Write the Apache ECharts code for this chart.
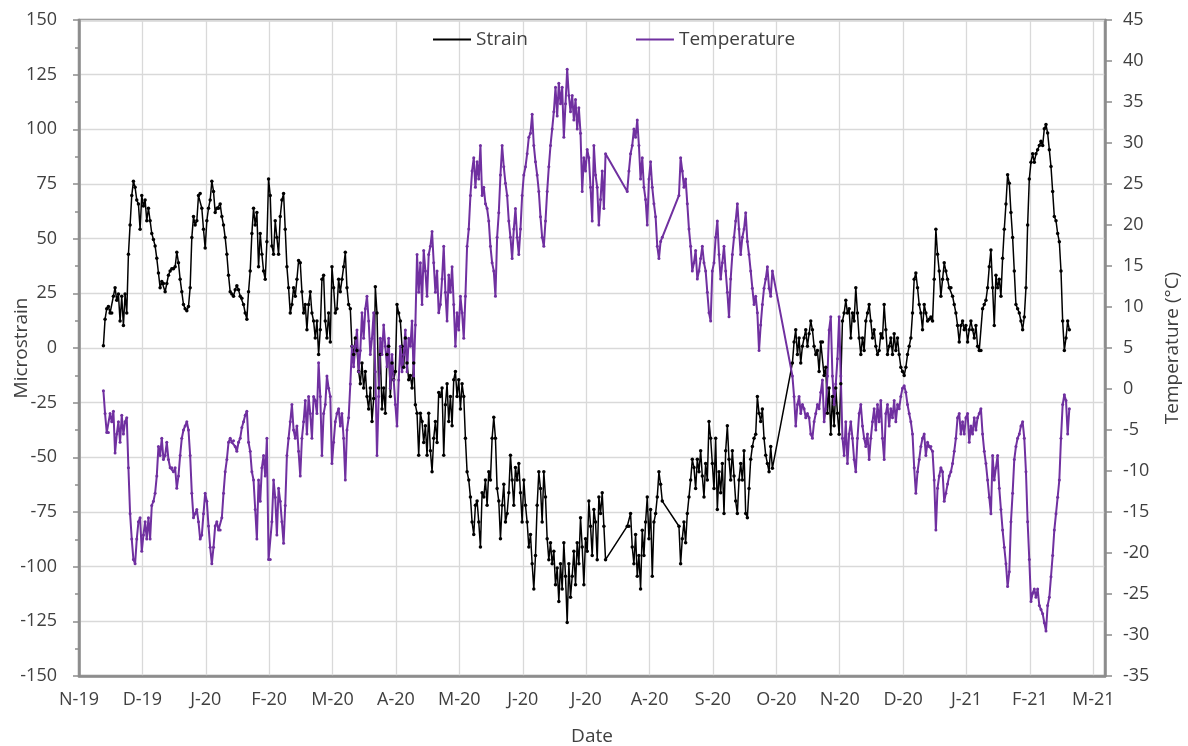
<!DOCTYPE html>
<html>
<head>
<meta charset="utf-8">
<script src="https://cdn.jsdelivr.net/npm/echarts@6/dist/echarts.min.js"></script>
<style>
  html, body { margin: 0; padding: 0; background: #ffffff; }
  #chart { width: 1188px; height: 746px; }
</style>
</head>
<body>
<div id="chart"></div>
<script>
// ---- Tick labels of the date axis (equally spaced ticks) ----
const monthTicks = ['N-19','D-19','J-20','F-20','M-20','A-20','M-20','J-20','J-20','A-20','S-20','O-20','N-20','D-20','J-21','F-21','M-21'];
const DAYS_PER_TICK = 30.4;      // days between two date ticks
const AXIS_MAX_DAY = 492;        // right end of the date axis
const FIRST_READING_DAY = 11.7;  // first reading, days after N-19
const READING_STEP_DAYS = 0.8;   // days between readings

// ---- Strain readings (microstrain); null = no reading (gap) ----
const strain = [
  1, 13.2, 18, 19, 16, 16, 23.7, 27.6, 21.8, 24.7,
  12.3, 23.7, 10.3, 24.7, 16, 42.9, 56.3, 69.7, 76.3, 73.5,
  67.7, 65.8, 54.3, 69.7, 64.9, 67.7, 58.2, 63.9, 58.2, 52.4,
  49.6, 46.7, 41, 34.3, 27.6, 30.4, 29.5, 25.7, 29.5, 33.3,
  35.2, 36.2, 36.2, 37.1, 43.8, 39, 31.4, 25.7, 19.9, 18,
  17, 19, 27.6, 50.5, 60.1, 56.3, 58.2, 69.7, 70.6, 63.9,
  54.3, 45.7, 58.2, 63.9, 67.7, 76.3, 71.6, 62, 63.9, 63.9,
  65.8, 60.1, 56.3, 50.5, 42.9, 33.3, 25.7, 24.7, 23.7, 26.6,
  28.5, 26.6, 23.7, 22.8, 19.9, 16, 13.2, 25.7, 35.2, 52.4,
  63.9, 56.3, 62, 37.1, 52.4, 42.9, 35.2, 31.4, 48.6, 77.3,

  69.7, 46.7, 42.9, 58.2, 50.5, 42.9, 60.1, 67.7, 70.6, 54.3,
  37.1, 27.6, 16, 19.9, 27.6, 23.7, 31.4, 40, 39, 25.7,
  16, 19.9, 8.4, 19.9, 25.7, 16, 12.3, 4.6, 12.3, -3,
  8.4, 31.4, 33.3, 12.3, 4.6, 16, 2.7, 37.1, 27.6, 16,
  18, 31.4, 25.7, 31.4, 37.1, 43.8, 27.6, 19.9, 18, 0.8,
  -3, 4.6, -1.1, -10.7, -16.4, -6.9, -18.3, -10.7, -22.2, -27.9,
  -18.3, -33.6, -23.1, 28, 16, -18.3, -3, -27.9, -18.3, -29.8,
  -3, 0.8, -22.2, -6.9, -14.5, -10.7, 19.9, 16, 12.3, 0.8,
  -8.8, 4.6, -6.9, -14.5, -12.6, -18.3, -6.9, -26, -29.8, -49,
  -29.8, -33.6, -43.2, -35.6, -49, -29.8, -47, -56.6, -41.3, -33.6,
  -43.2, -20.3,

  -22.2, -18.3, -49, -26, -16.4, -33.6, -22.2, -35.6, -14.5, -10.7,
  -22.2, -14.5, -27.9, -16.4, -22.2, -41.3, -56.6, -60.4, -68.1, -79.6,
  -85.3, -71.9, -70, -79.6, -91, -66.2, -68.1, -60.4, -71.9, -56.6,
  -60.4, -41.3, -31.7, -41.3, -64.3, -70, -87.2, -71.9, -62.3, -79.6,
  -75.7, -66.2, -49, -60.4, -71.9, -54.7, -60.4, -52.8, -66.2, -79.6,
  -60.4, -71.9, -79.6, -91, -85.3, -98.7, -110.2, -94.9, -71.9, -56.6,
  -64.3, -79.6, -56.6, -68.1, -87.2, -96.8, -89.1, -98.7, -93, -108.3,
  -100.6, -115.9, -98.7, -110.2, -89.1, -104.4, -125.5, -98.7, -114, -104.4,
  -93, -108.3, -89.1, -98.7, -77.6, -91, -108.3, -87.2, -93, -70,
  -81.5, -94.9, -73.8, -79.6, -96.8, -68.1, -75.7, -66.2, -81.5, -96.8,
  null, null,

  null, null, null, null, null, null, null, null, null, null,
  -81.5, -81.5, -75.7, -91, -98.7, -85.3, -104.4, -94.9, -110.2, -83.4,
  -94.9, -79.6, -68.1, -87.2, -73.8, -104.4, -79.6, -75.7, -68.1, -56.6,
  -62.3, -70,
  null, null, null, null, null, null, null, null, null,
  -81.5, -98.7, -87.2, -79.6, -89.1, -75.7, -68.1, -60.4, -50.9, -54.7,
  -64.3, -50.9, -56.6, -47, -58.5, -68.1, -52.8, -60.4, -33.6, -41.3,
  -52.8, -64.3, -41.3, -73.8, -56.6, -66.2, -52.8, -75.7, -47, -35.6,
  -50.9, -60.4, -47, -58.5, -70, -75.7, -60.4, -52.8, -60.4, -47,
  -75.7, -77.6, -64.3, -50.9, -45.1, -41.3, -39.4, -22.2, -29.8, -33.6,
  -27.9, -41.3, -49, -52.8, -56.6, -45.1, -55,
  null, null, null, null,

  null, null, null, null, null, null, null,
  -6.9, 2.7, 8.4, -3, 4.6, -6.9, 0.8, 4.6, 8.4, 0.8,
  6.5, 12.3, 8.4, 0.8, -3, -1.1, -10.7, 2.7, 2.7, -12.6,
  -8.8, -29.8, -18.3, -39.4, -22.2, -35.6, -18.3, -29.8, -39.4, -16.4,
  12.3, 16, 21.8, 16, 18, 4.6, 16, 12.3, 27.6, 16,
  4.6, -3, 4.6, -1.1, 12.3, 16, 19.9, 12.3, 4.6, 8.4,
  0.8, -3, -1.1, 6.5, 4.6, 19.9, 8.4, -3, 0.8, 4.6,
  -3, 6.5, -1.1, 4.6, -3, -8.8, -10.7, -12.6, -8.8, -3,
  0.8, 4.6, 16, 31.4, 34.3, 27.6, 19.9, 16, 8.4, 19.9,
  16, 12.3, 13.2, 14.2, 12.3, 31.4, 54.3, 42.9, 35.2, 23.7,
  31.4, 39, 35.2, 31.4, 27.6,

  27.6, 23.7, 19.9, 16, 10.3, 2.7, 10.3, 12.3, 8.4, 10.3,
  2.7, 8.4, 12.3, 8.4, 4.6, 10.3, 0.8, -1.1, -1.1, 18,
  19.9, 21.8, 27.6, 37.1, 44.8, 27.6, 10.3, 33.3, 27.6, 31.4,
  23.7, 41, 54.3, 65.8, 79.2, 75.4, 62, 50.5, 35.2, 19.9,
  18, 16, 12.3, 8.4, 14.2, 27.6, 56.3, 77.3, 85, 88.8,
  85, 88.8, 90.7, 92.6, 94.5, 92.6, 100.3, 102.2, 98.3, 90.7,
  83, 71.6, 60.1, 58.2, 52.4, 48.6, 35.2, 12.3, -1.1, 4.6,
  12.3, 8.4
];

// ---- Temperature readings (°C); null = no reading (gap) ----
const temperature = [
  -0.2, -3, -5.3, -5.3, -3, -4, -2.7, -7.8, -5.5, -4,
  -6.5, -3.2, -5.5, -4, -3.5, -9.6, -15.2, -18.3, -20.8, -21.3,
  -18.3, -16.2, -15.7, -19.8, -17.8, -16.2, -18.3, -15.7, -18.3, -14.2,
  -13.7, -12.7, -10.6, -7, -8.1, -6, -8.6, -8.1, -6.5, -8.6,
  -9.6, -9.6, -10.1, -9.6, -12.1, -10.6, -8.1, -6, -5, -4.5,
  -4, -5, -8.1, -12.7, -15.7, -15.2, -14.7, -16.2, -18.3, -17.8,
  -15.2, -12.7, -13.7, -16.7, -19.3, -21.3, -19.3, -16.7, -16.2, -17.2,
  -17.2, -15.7, -12.7, -10.1, -8.6, -6.5, -6, -6.5, -6.3, -7,
  -7.6, -6.5, -6, -4.7, -4, -3.2, -2.7, -6.5, -7.6, -10.1,
  -11.1, -14.7, -18.3, -11.1, -13.7, -9.6, -8.1, -10.6, -6, -20.8,

  -20.8, -16.2, -11.1, -13.2, -17.8, -12.1, -13.7, -16.2, -18.8, -14.2,
  -8.1, -6, -4, -1.9, -5, -6, -4.5, -7.6, -10.6, -6,
  -4, -1.4, -5.5, -0.9, -3, -6, -0.9, -1.4, -3, 3.2,
  -0.9, -8.1, -3, -1.9, 1.6, 0.1, -0.9, -9.1, -6.5, -4,
  -3, -2.4, -4.5, -3, -6, -11.1, -5, -3.5, 0.6, 5.2,
  2.7, 5.2, 7.2, 2.1, 4.7, 9.3, 6.2, 9.8, 11.3, 8.3,
  4.2, 6.2, 9.3, 2.1, -8.1, -0.9, 6.2, 4.2, 7.8, 5.2,
  2.7, 6.2, 0.1, 4.2, 1.1, -1.9, -4.5, 1.1, 5.2, 2.1,
  4.2, 7.2, 2.1, 6.2, 5.2, 8.3, 1.6, 7.8, 16.4, 11.8,
  15.4, 10.3, 16.9, 14.4, 11.3, 16.4, 17.4, 19.2, 15.4, 11.8,
  14.4, 9.3,

  10.3, 13.4, 17.4, 11.8, 8.3, 13.9, 11.8, 14.9, 10.3, 5.2,
  9.3, 7.2, 11.3, 9.3, 6.2, 11.3, 17.4, 19.5, 23.6, 26.6,
  28.2, 24.6, 27.7, 25.6, 29.7, 23.6, 24.6, 22.6, 22, 20.5,
  17.4, 15.4, 14.4, 11.3, 18.5, 21.5, 26.1, 29.7, 27.1, 25.1,
  23.6, 20.5, 18.5, 15.9, 19.5, 22, 18.5, 16.4, 19.5, 23.6,
  26.1, 27.1, 28.7, 30.7, 31.2, 33.5, 29.7, 27.7, 26.1, 24.1,
  21, 18.5, 17.4, 20.5, 24.1, 27.1, 29.7, 31.7, 33.8, 36.8,
  33.3, 37.3, 34.8, 36.8, 30.7, 34.8, 39, 35.8, 33.8, 35.8,
  32.8, 35.3, 31.7, 34.3, 31.2, 24.1, 28.2, 26.6, 29.2, 28.2,
  24.6, 20.5, 29.7, 26.1, 24.6, 20, 23.1, 26.6, 22, 28.7,
  null, null,

  null, null, null, null, null, null, null, null, null, null,
  24.1, 26.6, 28.7, 29.7, 31.7, 30.7, 32.8, 29.7, 25.6, 28.2,
  24.6, 23.1, 20, 25.6, 27.7, 24.6, 22.6, 21, 17.4, 15.9,
  18, 18.5,
  null, null, null, null, null, null, null, null, null,
  23.6, 28.2, 26.6, 24.6, 25.6, 22.6, 19.5, 17.4, 14.4, 15.4,
  16.9, 13.4, 14.4, 15.9, 17.4, 15.4, 14.4, 11.8, 9.3, 8.3,
  14.4, 15.4, 18.5, 20.5, 16.4, 13.4, 15.4, 17.4, 14.4, 11.8,
  8.8, 13.4, 16.4, 18.5, 20.5, 22.6, 19.5, 16.4, 18.5, 19.5,
  21.5, 18, 16.4, 14.4, 12.3, 10.3, 11.3, 9.3, 4.7, 7.8,
  10.3, 12.3, 13.4, 14.9, 12.3, 11.3, 14.4,
  null, null, null, null,

  null, null, null, null, null, null, null,
  1.6, -0.9, -4.5, -1.9, -0.9, -3, -1.9, -2.4, -3.5, -3,
  -3.5, -5.5, -6, -4, -3, -1.9, -2.4, -0.4, 1.1, -4,
  -2.4, 1.6, 7.2, 8.8, 1.6, -1.9, 0.6, 3.7, 8.8, 1.6,
  -6, -8.1, -4, -9.1, -5.5, -4, -6, -8.6, -10.1, -6,
  -3, -1.9, -4.5, -6, -7, -5.5, -8.6, -6, -4, -2.4,
  -5, -1.9, -4, -1.4, -6, -8.6, -3, -1.9, -4.5, -2.4,
  -3.5, -1.4, -4, -1.9, -2.4, -0.9, 0.1, 0.4, -0.4, -1.9,
  -3, -4, -5.5, -9.6, -12.7, -10.1, -8.6, -7, -6, -5.5,
  -8.1, -6.5, -7, -7, -7.6, -11.1, -17.2, -12.1, -10.6, -9.6,
  -10.1, -13.7, -12.7, -11.6, -10.6,

  -10.1, -9.1, -7.6, -6, -3.5, -3, -5.5, -4, -5.5, -3.5,
  -3, -6.5, -4.5, -5.5, -3.5, -5, -3.5, -3, -2.4, -5.5,
  -7.6, -9.1, -11.1, -13.2, -15.2, -8.1, -11.1, -9.6, -8.1, -12.1,
  -14.7, -17.2, -19.3, -21.3, -24.1, -22.3, -16.2, -12.7, -8.6, -7,
  -6, -5.5, -4.5, -4, -6, -10.1, -16.2, -20.8, -25.9, -24.9,
  -24.4, -25.4, -24.4, -26.4, -26.9, -27.4, -28.5, -29.5, -26.4, -25.4,
  -22.9, -20.3, -17.2, -15.2, -13.2, -11.1, -6, -1.9, -0.7, -1.4,
  -5.5, -2.4
];

const readingDay = (i) => FIRST_READING_DAY + i * READING_STEP_DAYS;
const strainData = strain.map((v, i) => [readingDay(i), v]);
const temperatureData = temperature.map((v, i) => [readingDay(i), v]);

const FONT = '"Open Sans", "Liberation Sans", sans-serif';
const TXT = '#404040';
const AXIS = '#8c8c8c';
const GRID = '#d9d9d9';

const chart = echarts.init(document.getElementById('chart'), null, { renderer: 'canvas' });
chart.setOption({
  animation: false,
  backgroundColor: '#ffffff',
  textStyle: { fontFamily: FONT, color: TXT },
  legend: {
    left: 428, top: 25,
    icon: 'rect', itemWidth: 38, itemHeight: 2, itemGap: 108,
    textStyle: { fontFamily: FONT, fontSize: 19, color: TXT },
    data: ['Strain', 'Temperature']
  },
  grid: {
    left: 79, right: 83, top: 20, bottom: 70,
    containLabel: false, outerBoundsMode: 'none',
    show: true, borderColor: AXIS, borderWidth: 2.5, backgroundColor: 'transparent'
  },
  xAxis: {
    type: 'value', min: 0, max: AXIS_MAX_DAY, interval: DAYS_PER_TICK,
    name: 'Date', nameLocation: 'middle', nameGap: 51,
    nameTextStyle: { fontFamily: FONT, fontSize: 19, color: TXT },
    axisLine: { show: true, onZero: false, lineStyle: { color: AXIS, width: 2.5 } },
    axisTick: { show: false },
    splitLine: { show: true, lineStyle: { color: GRID, width: 1.3 } },
    axisLabel: {
      fontFamily: FONT, fontSize: 18, color: TXT, margin: 15,
      showMaxLabel: false,
      formatter: function (v) {
        const k = v / DAYS_PER_TICK;
        const r = Math.round(k);
        return (Math.abs(k - r) < 0.01 && r < monthTicks.length) ? monthTicks[r] : '';
      }
    }
  },
  yAxis: [
    {
      type: 'value', min: -150, max: 150, interval: 25, position: 'left',
      name: 'Microstrain', nameLocation: 'middle', nameGap: 48, nameRotate: 90,
      nameMoveOverlap: false,
      nameTextStyle: { fontFamily: FONT, fontSize: 19, color: TXT },
      axisLine: { show: true, onZero: false, lineStyle: { color: AXIS, width: 2.5 } },
      axisTick: { show: true, length: 6, lineStyle: { color: AXIS, width: 1.5 } },
      minorTick: { show: true, splitNumber: 2, length: 4, lineStyle: { color: AXIS, width: 1.5 } },
      splitLine: { show: true, lineStyle: { color: GRID, width: 1.3 } },
      axisLabel: { fontFamily: FONT, fontSize: 18, color: TXT, margin: 22 }
    },
    {
      type: 'value', min: -35, max: 45, interval: 5, position: 'right',
      name: 'Temperature (°C)', nameLocation: 'middle', nameGap: 58, nameRotate: 90,
      nameMoveOverlap: false,
      nameTextStyle: { fontFamily: FONT, fontSize: 19, color: TXT },
      axisLine: { show: true, onZero: false, lineStyle: { color: AXIS, width: 2.5 } },
      axisTick: { show: true, length: 7, lineStyle: { color: AXIS, width: 1.5 } },
      splitLine: { show: false },
      axisLabel: { fontFamily: FONT, fontSize: 18, color: TXT, margin: 18 }
    }
  ],
  series: [
    {
      name: 'Strain', type: 'line', yAxisIndex: 0,
      data: strainData, connectNulls: true,
      showSymbol: true, symbol: 'circle', symbolSize: 3.5,
      color: '#000000',
      lineStyle: { color: '#000000', width: 1.5 },
      itemStyle: { color: '#000000' }
    },
    {
      name: 'Temperature', type: 'line', yAxisIndex: 1,
      data: temperatureData, connectNulls: true,
      showSymbol: true, symbol: 'circle', symbolSize: 3,
      color: '#7030A0',
      lineStyle: { color: '#7030A0', width: 2 },
      itemStyle: { color: '#7030A0' }
    }
  ]
});
</script>
</body>
</html>
